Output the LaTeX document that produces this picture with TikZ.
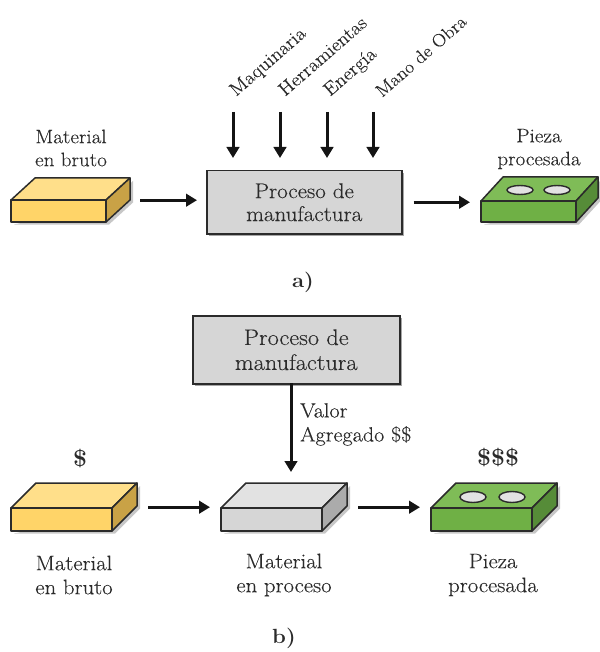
\documentclass[tikz,border=0pt]{standalone}
\usepackage{fontspec}
\setmainfont{Latin Modern Roman}[FakeStretch=1.08,UprightFeatures={FakeBold=0.25}]
\usetikzlibrary{arrows.meta,shadows}
\definecolor{ytop}{HTML}{FFDF8A}\definecolor{yfront}{HTML}{FFD468}\definecolor{yside}{HTML}{C9A246}
\definecolor{gtop}{HTML}{7FBC57}\definecolor{gfront}{HTML}{6FB045}\definecolor{gside}{HTML}{568C38}
\definecolor{etop}{HTML}{E2E2E2}\definecolor{efront}{HTML}{D6D6D6}\definecolor{eside}{HTML}{ABABAB}
\definecolor{ink}{HTML}{2B2B2B}
\tikzset{
 x=1pt,y=-1pt,
 lbl/.style={text=ink,font=\fontsize{19.5}{23}\selectfont,align=center,inner sep=0pt},
 lblb/.style={text=ink,font=\fontsize{21}{24}\selectfont,align=center,inner sep=0pt},
 slant/.style={text=ink,font=\fontsize{19}{22}\selectfont,rotate=41,anchor=base west,inner sep=0pt},
 proc/.style={draw=ink,line width=1.5pt,fill=efront,inner sep=0pt,align=center,text=ink,anchor=north west,
   drop shadow={shadow xshift=2pt,shadow yshift=-2.5pt,opacity=.35,fill=black}},
 arr/.style={-{Triangle[length=11pt,width=12.5pt]},line width=3pt,draw=black!92},
 edgeln/.style={draw=ink,line width=1.5pt,line join=round},
 hole/.style={draw=ink,line width=1.4pt,fill=etop},
 bbx/.style={inner sep=0pt,anchor=north west,draw=none},
 money/.style={text=ink,font=\bfseries\fontsize{23}{25}\selectfont,inner sep=0pt},
 partlabel/.style={text=ink,font=\bfseries\fontsize{20.5}{22}\selectfont,inner sep=0pt},
}
% name, x left, y front top, front width, front height, dx, dy, prefix colour
\newcommand{\solid}[8]{%
 \fill[black,opacity=.22] (#2+3,#3+#5+2.5) -- (#2+#4+3,#3+#5+2.5) -- (#2+#4+#6+3,#3+#5-#7+2.5) -- (#2+#4+#6+3,#3-#7+3) -- (#2+#4+3,#3+3) -- cycle;
 \draw[edgeln,fill=#8top] (#2,#3) -- (#2+#6,#3-#7) -- (#2+#4+#6,#3-#7) -- (#2+#4,#3) -- cycle;
 \draw[edgeln,fill=#8front] (#2,#3) rectangle (#2+#4,#3+#5);
 \draw[edgeln,fill=#8side] (#2+#4,#3) -- (#2+#4+#6,#3-#7) -- (#2+#4+#6,#3+#5-#7) -- (#2+#4,#3+#5) -- cycle;
 \node[bbx,minimum width=#4+#6,minimum height=#5+#7] (#1) at (#2,#3-#7) {};
}
\begin{document}
\begin{tikzpicture}
\useasboundingbox (0,0) rectangle (599,652);
% --- a)
\solid{rawA}{11}{200}{95}{22}{24}{22}{y}
\solid{pieceA}{481}{201}{95}{21}{22}{24}{g}
\draw[hole] (520,190) ellipse (13 and 4.5);
\draw[hole] (557,190) ellipse (13 and 4.5);
\node[proc,minimum width=195,minimum height=63,font=\fontsize{21.3}{23}\selectfont] (procA) at (206,170) {Proceso de\\manufactura};
\node[lbl] (rawAl) at (71,148) {Material\\en bruto};
\node[lbl] (pieceAl) at (539,149) {Pieza\\procesada};
\draw[arr,shorten <=10pt,shorten >=9pt] (rawA.east) -- (rawA.east -| procA.west);
\draw[arr,shorten <=11pt,shorten >=11pt] (procA.east) -- (procA.east -| pieceA.west);
\coordinate (c1) at (233,112);\coordinate (c2) at (280,112);\coordinate (c3) at (327,112);\coordinate (c4) at (373,112);
\foreach \n in {c1,c2,c3,c4} \draw[arr,shorten >=12pt] (\n) -- (\n |- procA.north);
\node[slant] (t1) at (236,97) {Maquinaria};
\node[slant] (t2) at (285,97) {Herramientas};
\node[slant] (t3) at (330,97) {Energía};
\node[slant,font=\fontsize{18}{22}\selectfont] (t4) at (382,98) {Mano de Obra};
\node[partlabel] (la) at (303,282) {a)};
% --- b)
\node[proc,minimum width=207,minimum height=68,font=\fontsize{22.5}{25}\selectfont] (procB) at (192,315) {Proceso de\\manufactura};
\solid{rawB}{11}{508}{101}{23}{25}{25}{y}
\solid{midB}{221}{508}{101}{23}{25}{25}{e}
\solid{pieceB}{431}{508}{101}{23}{25}{25}{g}
\draw[hole] (473,497) ellipse (13 and 5.5);
\draw[hole] (512,497) ellipse (13 and 5.5);
\draw[arr,shorten <=11pt,shorten >=11pt] (rawB.east) -- (rawB.east -| midB.west);
\draw[arr,shorten <=11pt,shorten >=11pt] (midB.east) -- (midB.east -| pieceB.west);
\coordinate (dn) at (291,383);
\draw[arr,shorten >=11pt] (dn) -- (dn |- midB.north);
\node[lbl,font=\fontsize{20.5}{24}\selectfont,align=left,anchor=north west] (va) at (300,403) {Valor\\Agregado \$\$};
\node[money] (d1) at (80,459) {\$};
\node[money] (d3) at (498,458) {\$\$\$};
\node[lblb] (l1) at (74,575) {Material\\en bruto};
\node[lblb] (l2) at (284,575) {Material\\en proceso};
\node[lblb] (l3) at (493,575) {Pieza\\procesada};
\node[partlabel] (lb) at (284,638) {b)};
\end{tikzpicture}
\end{document}
